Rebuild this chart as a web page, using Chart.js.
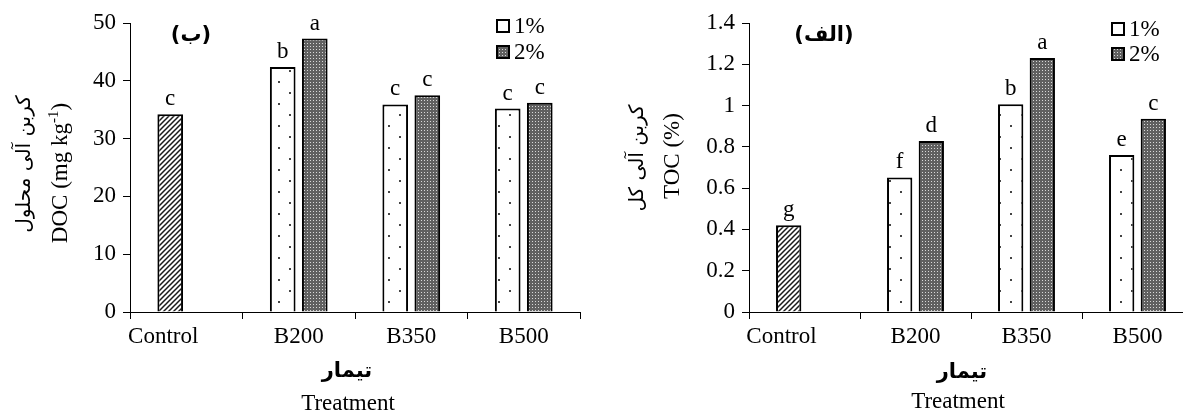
<!DOCTYPE html>
<html>
<head>
<meta charset="utf-8">
<script src="https://cdn.jsdelivr.net/npm/chart.js@4"></script>
<style>
  html, body { margin: 0; padding: 0; background: #fff; overflow: hidden; }
  #wrap { position: relative; width: 1183px; height: 414px; overflow: hidden; }
  canvas { position: absolute; top: 0; }
  #docChart { left: 0; }
  #tocChart { left: 600px; }
</style>
</head>
<body>
<div id="wrap">
  <canvas id="docChart" width="590" height="414"></canvas>
  <canvas id="tocChart" width="595" height="414"></canvas>
</div>
<script>
// data
const categories = ['Control', 'B200', 'B350', 'B500'];
const seriesNames = ['1%', '2%'];

const doc1 = [34.2, 42.4, 35.9, 35.2];
const doc2 = [null, 47.3, 37.5, 36.2];
const docLetters1 = ['c', 'b', 'c', 'c'];
const docLetters2 = ['', 'a', 'c', 'c'];
const docTicks = { min: 0, max: 50, step: 10 };

const toc1 = [0.42, 0.652, 1.006, 0.761];
const toc2 = [null, 0.828, 1.23, 0.936];
const tocLetters1 = ['g', 'f', 'b', 'e'];
const tocLetters2 = ['', 'd', 'a', 'c'];
const tocTicks = { min: 0, max: 1.4, step: 0.2 };

const SERIF = '"Liberation Serif", "DejaVu Serif", serif';
const FA = '"DejaVu Sans", sans-serif';
const FS = 23;

function makePattern(kind) {
  const c = document.createElement('canvas');
  const g = c.getContext('2d');
  if (kind === 'hatch') {
    c.width = 5; c.height = 5;
    g.fillStyle = '#fff'; g.fillRect(0, 0, 5, 5);
    g.strokeStyle = '#1a1a1a'; g.lineWidth = 1.5;
    g.beginPath();
    g.moveTo(-1, 6); g.lineTo(6, -1);
    g.moveTo(-1, 1); g.lineTo(1, -1);
    g.moveTo(4, 6); g.lineTo(6, 4);
    g.stroke();
  } else if (kind === 'sparse') {
    c.width = 22; c.height = 22;
    g.fillStyle = '#fff'; g.fillRect(0, 0, 22, 22);
    g.fillStyle = '#444';
    g.fillRect(3, 4, 2, 2);
    g.fillRect(14, 15, 2, 2);
  } else {
    c.width = 3; c.height = 3;
    g.fillStyle = '#606060'; g.fillRect(0, 0, 3, 3);
    g.fillStyle = '#d8d8d8'; g.fillRect(1, 1, 1, 1);
  }
  return document.createElement('canvas').getContext('2d').createPattern(c, 'repeat');
}

const hatch = makePattern('hatch');
const sparse = makePattern('sparse');
const dense = makePattern('dense');

// titles, panel label, legend and letters drawn on top
function decorPlugin(cfg) {
  return {
    id: 'decor',
    afterDatasetsDraw(chart) {
      const ctx = chart.ctx;
      ctx.save();
      ctx.fillStyle = '#000';
      ctx.font = FS + 'px ' + SERIF;
      ctx.textAlign = 'center';
      ctx.textBaseline = 'alphabetic';
      chart.data.datasets.forEach((ds, i) => {
        const meta = chart.getDatasetMeta(i);
        meta.data.forEach((bar, j) => {
          const t = ds.letters[j];
          if (!t || ds.data[j] == null) return;
          ctx.fillText(t, bar.x, bar.y - 9);
        });
      });

      // y title: persian line + english line
      ctx.save();
      ctx.translate(cfg.faY[0], cfg.faY[1]);
      ctx.rotate(-Math.PI / 2);
      ctx.font = '20px ' + FA;
      ctx.textBaseline = 'middle';
      ctx.direction = 'rtl';
      ctx.fillText(cfg.faTitle, 0, 0);
      ctx.restore();

      ctx.save();
      ctx.translate(cfg.enY[0], cfg.enY[1]);
      ctx.rotate(-Math.PI / 2);
      ctx.textBaseline = 'middle';
      ctx.textAlign = 'left';
      const parts = cfg.enTitle;
      ctx.font = FS + 'px ' + SERIF;
      const w0 = ctx.measureText(parts[0]).width;
      const w2 = ctx.measureText(parts[2]).width;
      ctx.font = '15px ' + SERIF;
      const w1 = parts[1] ? ctx.measureText(parts[1]).width : 0;
      let x = -(w0 + w1 + w2) / 2;
      ctx.font = FS + 'px ' + SERIF;
      ctx.fillText(parts[0], x, 0); x += w0;
      if (parts[1]) {
        ctx.font = '15px ' + SERIF;
        ctx.fillText(parts[1], x, -7); x += w1;
      }
      ctx.font = FS + 'px ' + SERIF;
      ctx.fillText(parts[2], x, 0);
      ctx.restore();

      // panel label
      ctx.font = 'bold 21px ' + FA;
      ctx.textAlign = 'center';
      ctx.textBaseline = 'middle';
      ctx.fillText(cfg.panel, cfg.panelPos[0], cfg.panelPos[1]);

      // x title
      ctx.font = 'bold 21px ' + FA;
      ctx.direction = 'rtl';
      ctx.fillText('تیمار', cfg.xFa[0], cfg.xFa[1]);
      ctx.direction = 'ltr';
      ctx.font = FS + 'px ' + SERIF;
      ctx.fillText('Treatment', cfg.xEn[0], cfg.xEn[1]);

      // legend
      const fills = [sparse, dense];
      ctx.textAlign = 'left';
      seriesNames.forEach((name, k) => {
        const lx = cfg.legend[0], ly = cfg.legend[1] + k * cfg.legend[2];
        ctx.fillStyle = k === 0 ? '#fff' : fills[k];
        ctx.fillRect(lx, ly - 6, 12, 12);
        ctx.strokeStyle = '#000';
        ctx.lineWidth = 2;
        ctx.strokeRect(lx, ly - 6, 12, 12);
        ctx.fillStyle = '#000';
        ctx.font = FS + 'px ' + SERIF;
        ctx.fillText(name, lx + 17, ly + 1);
      });
      ctx.restore();
    }
  };
}

function buildChart(id, d1, d2, l1, l2, ticks, axisWidth, padRight, cfg) {
  return new Chart(document.getElementById(id), {
    type: 'bar',
    data: {
      labels: categories,
      datasets: [
        {
          label: seriesNames[0], data: d1, letters: l1,
          backgroundColor: [hatch, sparse, sparse, sparse],
          borderColor: '#000', borderWidth: 2
        },
        {
          label: seriesNames[1], data: d2, letters: l2,
          backgroundColor: dense,
          borderColor: '#000', borderWidth: 2
        }
      ]
    },
    options: {
      responsive: false,
      animation: false,
      categoryPercentage: 0.57,
      barPercentage: 0.8,
      layout: { padding: { top: 23, right: padRight, left: 0, bottom: 0 } },
      plugins: { legend: { display: false }, tooltip: { enabled: false } },
      scales: {
        x: {
          grid: { drawOnChartArea: false, drawTicks: true, tickLength: 7, color: '#000', offset: true },
          border: { color: '#000', width: 1 },
          ticks: {
            color: '#000', font: { family: SERIF, size: FS }, padding: 4,
            maxRotation: 0, minRotation: 0, autoSkip: false,
            // the control label sits left of its slot in the original
            callback: (v, i) => i === 0 ? categories[i] + '\u2003\u2003' : categories[i]
          },
          afterFit(s) { s.height = 102; }
        },
        y: {
          min: ticks.min, max: ticks.max,
          grid: { drawOnChartArea: false, drawTicks: true, tickLength: 7, color: '#000' },
          border: { color: '#000', width: 1 },
          ticks: {
            stepSize: ticks.step, color: '#000', font: { family: SERIF, size: FS }, padding: 7,
            callback: (v) => String(Math.round(v * 10) / 10)
          },
          afterFit(s) { s.width = axisWidth; }
        }
      }
    },
    plugins: [decorPlugin(cfg)]
  });
}

buildChart('docChart', doc1, doc2, docLetters1, docLetters2, docTicks, 130, 10, {
  faTitle: 'کربن آلی محلول', faY: [25, 164],
  enTitle: ['DOC (mg kg', '-1', ')'], enY: [61, 173],
  panel: '(ب)', panelPos: [191, 36],
  xFa: [347, 372], xEn: [348, 404],
  legend: [497, 26, 26]
});

buildChart('tocChart', toc1, toc2, tocLetters1, tocLetters2, tocTicks, 149, 2, {
  faTitle: 'کربن آلی کل', faY: [38, 158],
  enTitle: ['TOC (%)', '', ''], enY: [73, 156],
  panel: '(الف)', panelPos: [224, 36],
  xFa: [362, 373], xEn: [358, 402],
  legend: [512, 29, 25]
});
</script>
</body>
</html>
